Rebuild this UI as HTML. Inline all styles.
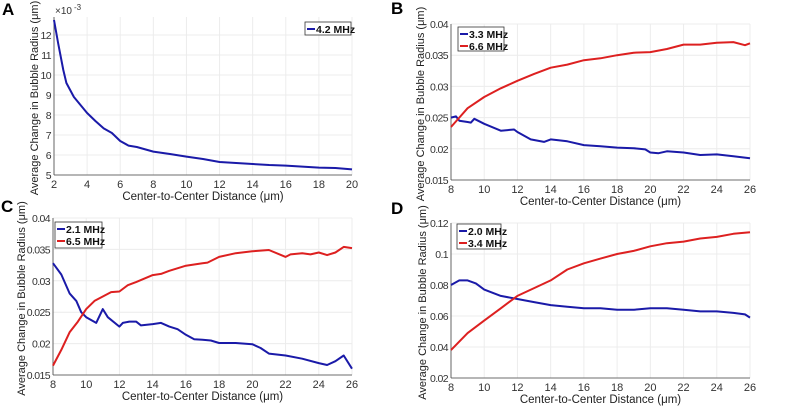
<!DOCTYPE html>
<html><head><meta charset="utf-8"><style>
body{margin:0;background:#fff;width:787px;height:406px;overflow:hidden;font-family:"Liberation Sans",Arial,sans-serif}
svg text{font-family:"Liberation Sans",Arial,sans-serif}
</style></head><body>
<svg id="fig" width="787" height="406" xmlns="http://www.w3.org/2000/svg"></svg>
<script>
// Panel A data
const aX=[2,2.25,2.56,2.75,3.2,4,4.5,5,5.5,6,6.5,7,8,9,10,11,12,13,14,15,16,17,18,19,20];
const aY=[12.75,11.6,10.25,9.6,8.9,8.1,7.7,7.33,7.1,6.7,6.47,6.4,6.17,6.05,5.92,5.8,5.65,5.6,5.55,5.5,5.47,5.42,5.37,5.35,5.28];
// Panel B data
const bRedX=[8,8.5,9,10,11,12,13,14,15,16,17,18,19,20,21,22,23,24,25,25.7,26];
const bRedY=[0.0235,0.025,0.0265,0.0283,0.0297,0.0309,0.032,0.033,0.0335,0.0342,0.0345,0.035,0.0354,0.0355,0.036,0.0367,0.0367,0.037,0.0371,0.0366,0.0369];
const bBlueX=[8,8.3,8.5,9,9.2,9.4,10,11,11.8,12,12.8,13.6,14,15,16,17,18,19,19.7,20,20.5,21,22,23,24,25,26];
const bBlueY=[0.025,0.0252,0.0245,0.0243,0.0242,0.0248,0.024,0.0229,0.0231,0.0227,0.0215,0.0211,0.0215,0.0212,0.0206,0.0204,0.0202,0.0201,0.0199,0.0194,0.0193,0.0196,0.0194,0.019,0.0191,0.0188,0.0185];
// Panel C data
const cRedX=[8,8.5,9,9.5,10,10.5,11,11.5,12,12.5,13,14,14.5,15,16,17,17.3,18,19,20,21,22,22.3,23,23.5,24,24.5,25,25.5,26];
const cRedY=[0.0165,0.019,0.0218,0.0235,0.0255,0.0268,0.0275,0.0282,0.0283,0.0293,0.0298,0.0309,0.0311,0.0316,0.0324,0.0328,0.0329,0.0338,0.0344,0.0347,0.0349,0.0338,0.0342,0.0344,0.0342,0.0345,0.0341,0.0345,0.0354,0.0352];
const cBlueX=[8,8.5,9,9.4,9.7,10,10.6,11,11.3,12,12.2,12.6,13,13.3,14,14.5,15,15.5,16,16.5,17,17.5,18,19,20,20.5,21,22,23,24,24.5,25,25.5,26];
const cBlueY=[0.0328,0.031,0.028,0.0268,0.025,0.0242,0.0233,0.0255,0.0242,0.0227,0.0233,0.0235,0.0235,0.0229,0.0231,0.0233,0.0227,0.0223,0.0214,0.0207,0.0206,0.0205,0.0201,0.0201,0.0199,0.0193,0.0184,0.0181,0.0176,0.0169,0.0166,0.0172,0.0181,0.016];
// Panel D data
const dRedX=[8,9,10,11,12,13,14,15,16,17,18,19,20,21,22,23,24,25,26];
const dRedY=[0.038,0.049,0.057,0.065,0.073,0.078,0.083,0.09,0.094,0.097,0.1,0.102,0.105,0.107,0.108,0.11,0.111,0.113,0.114];
const dBlueX=[8,8.5,9,9.5,10,11,12,13,14,15,16,17,18,19,20,21,22,23,24,25,25.7,26];
const dBlueY=[0.08,0.083,0.083,0.081,0.077,0.073,0.071,0.069,0.067,0.066,0.065,0.065,0.064,0.064,0.065,0.065,0.064,0.063,0.063,0.062,0.061,0.059];
const xTicksA=[2,4,6,8,10,12,14,16,18,20];
const yTicksA=[5,6,7,8,9,10,11,12];
const xTicks=[8,10,12,14,16,18,20,22,24,26];
const yTicksBC=[0.015,0.02,0.025,0.03,0.035,0.04];
const yTicksD=[0.02,0.04,0.06,0.08,0.1,0.12];

const NS="http://www.w3.org/2000/svg";
const svg=document.getElementById('fig');
function mk(tag,attrs,parent){const e=document.createElementNS(NS,tag);for(const k in attrs)e.setAttribute(k,attrs[k]);(parent||svg).appendChild(e);return e;}
function txt(s,attrs,parent){const e=mk('text',attrs,parent);e.textContent=s;return e;}

function panel(p){
  const g=mk('g',{});
  
  
  const sx=v=>p.x0+(v-p.xmin)/(p.xmax-p.xmin)*(p.x1-p.x0);
  const sy=v=>p.yb+(v-p.ymin)/(p.ymax-p.ymin)*(p.yt-p.yb);
  const top=p.top;
  p.xt.forEach(v=>{const l=mk('line',{x1:sx(v),x2:sx(v),y1:top,y2:p.yb,stroke:'#ececec','stroke-width':1},g);
    });
  p.yt_.forEach(v=>{const l=mk('line',{x1:p.x0,x2:p.x1,y1:sy(v),y2:sy(v),stroke:'#ececec','stroke-width':1},g);
    });
  const ax=mk('line',{x1:p.x0,x2:p.x1,y1:p.yb,y2:p.yb,stroke:'#444','stroke-width':0.8},g);
  
  const ay=mk('line',{x1:p.x0,x2:p.x0,y1:top,y2:p.yb,stroke:'#444','stroke-width':0.8},g);
  
  p.xt.forEach(v=>{const t=txt(String(v),{x:sx(v),y:p.yb+13,'font-size':11,fill:'#333','text-anchor':'middle'},g);
    });
  p.yt_.forEach(v=>{const t=txt(String(v),{x:p.x0-3,y:sy(v)+4,'font-size':10.5,'letter-spacing':-0.6,fill:'#333','text-anchor':'end'},g);
    });
  const xt=txt('Center-to-Center Distance (μm)',{x:(p.x0+p.x1)/2,y:p.yb+25,'font-size':11.5,fill:'#222','text-anchor':'middle'},g);
  
  const yt=txt('Average Change in Bubble Radius (μm)',{x:0,y:0,'font-size':11,fill:'#222','text-anchor':'middle',transform:`translate(${p.ytx},${(top+p.yb)/2+2}) rotate(-90)`},g);
  
  const lt=txt(p.id.toUpperCase(),{x:p.lx,y:p.ly,'font-size':17,'font-weight':'bold',fill:'#000'},g);
  
  p.series.forEach(s=>{
    const d=s.x.map((v,i)=>(i?'L':'M')+sx(v).toFixed(1)+','+sy(s.y[i]).toFixed(1)).join('');
    const path=mk('path',{d:d,fill:'none',stroke:s.c,'stroke-width':2,'stroke-linejoin':'round'},g);
    
    
  });
  const L=p.leg;
  const lg=mk('g',{},g);
  
  
  mk('rect',{x:L.x,y:L.y,width:L.w,height:L.h,fill:'#fff',stroke:'#333','stroke-width':0.8},lg);
  p.series.forEach((s,i)=>{
    const yy=L.y+7+i*12;
    mk('line',{x1:L.x+2,x2:L.x+10,y1:yy,y2:yy,stroke:s.c,'stroke-width':2},lg);
    const e=txt(s.n,{x:L.x+11,y:yy+4,'font-size':10.5,'font-weight':'bold',fill:'#111'},lg);
    
  });
  return g;
}
const BL='#1a1aa8', RD='#dd2020';
panel({id:'a',x0:54,x1:352,yb:175,yt:35,top:17,xmin:2,xmax:20,ymin:5,ymax:12,xt:xTicksA,yt_:yTicksA,ytx:38,lx:2,ly:15,
  series:[{x:aX,y:aY,c:BL,n:'4.2 MHz'}],leg:{x:305,y:22,w:46,h:13}});
const ex=txt('×10',{x:55,y:14,'font-size':10,fill:'#333'});

const ex2=txt('-3',{x:74,y:10,'font-size':8,fill:'#333'});

panel({id:'b',x0:451,x1:750,yb:180,yt:24,top:24,xmin:8,xmax:26,ymin:0.015,ymax:0.04,xt:xTicks,yt_:yTicksBC,ytx:424,lx:391,ly:14,
  series:[{x:bBlueX,y:bBlueY,c:BL,n:'3.3 MHz'},{x:bRedX,y:bRedY,c:RD,n:'6.6 MHz'}],leg:{x:458,y:27,w:46,h:24}});
panel({id:'c',x0:53,x1:352,yb:375,yt:218,top:218,xmin:8,xmax:26,ymin:0.015,ymax:0.04,xt:xTicks,yt_:yTicksBC,ytx:25,lx:1,ly:212,
  series:[{x:cBlueX,y:cBlueY,c:BL,n:'2.1 MHz'},{x:cRedX,y:cRedY,c:RD,n:'6.5 MHz'}],leg:{x:55,y:222,w:47,h:26}});
panel({id:'d',x0:451,x1:750,yb:378,yt:223,top:223,xmin:8,xmax:26,ymin:0.02,ymax:0.12,xt:xTicks,yt_:yTicksD,ytx:426,lx:391,ly:214,
  series:[{x:dBlueX,y:dBlueY,c:BL,n:'2.0 MHz'},{x:dRedX,y:dRedY,c:RD,n:'3.4 MHz'}],leg:{x:457,y:224,w:44,h:25}});
</script>
</body></html>
